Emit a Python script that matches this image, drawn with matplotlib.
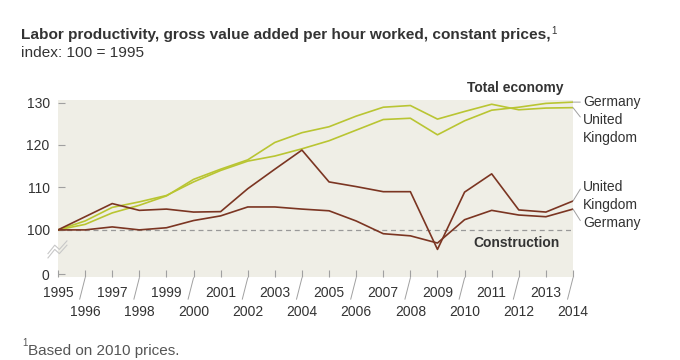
import matplotlib
matplotlib.use("Agg")
import matplotlib.pyplot as plt

plt.rcParams["font.family"] = ["Liberation Sans", "DejaVu Sans"]

# data
years = list(range(1995, 2015))
ge_total = [100, 102.1, 105.3, 106.6, 108.1, 111.3, 114.0, 116.2, 117.4, 119.1,
            121.0, 123.5, 126.0, 126.3, 122.4, 125.7, 128.2, 128.9, 129.8, 130.1]
uk_total = [100, 101.3, 104.0, 105.8, 108.0, 111.9, 114.3, 116.5, 120.6, 122.9,
            124.3, 126.8, 128.9, 129.3, 126.1, 127.9, 129.6, 128.3, 128.7, 128.8]
uk_constr = [100, 103.1, 106.2, 104.6, 104.9, 104.2, 104.3, 109.7, 114.3, 118.8,
             111.3, 110.2, 109.0, 109.0, 95.4, 108.9, 113.2, 104.7, 104.2, 106.8]
ge_constr = [100, 100.0, 100.7, 100.0, 100.5, 102.2, 103.3, 105.4, 105.4, 104.9,
             104.5, 102.1, 99.1, 98.6, 96.9, 102.4, 104.6, 103.5, 103.1, 104.9]

ZERO_POS = 89.5  # where "0" sits below the axis break
ytick_pos = [ZERO_POS, 100, 110, 120, 130]
ytick_lab = ["0", "100", "110", "120", "130"]

GREEN = "#b9c532"
BROWN = "#7b3522"
BG = "#efeee6"
TXT = "#333333"
GRAY = "#a0a0a0"

fig = plt.figure(figsize=(6.8, 3.6), dpi=100)
ax = fig.add_axes([58 / 680, 1 - 277 / 360, (573 - 58) / 680, 177 / 360])
ax.set_facecolor(BG)
for s in ax.spines.values():
    s.set_visible(False)

ax.axhline(100, color="#999999", lw=0.9, ls=(0, (4, 3)), zorder=1)

ax.plot(years, ge_total, color=GREEN, lw=1.2, zorder=3)
ax.plot(years, uk_total, color=GREEN, lw=1.2, zorder=3)
ax.plot(years, uk_constr, color=BROWN, lw=1.2, zorder=3)
ax.plot(years, ge_constr, color=BROWN, lw=1.2, zorder=3)

ax.set_xlim(1995, 2014)
ax.set_ylim(88.9, 130.6)
ax.set_yticks(ytick_pos)
ax.set_yticklabels(ytick_lab)
ax.set_xticks(years)
ax.set_xticklabels([])
ax.tick_params(axis="both", direction="in", length=5, width=0.8, color=GRAY,
               labelsize=10, labelcolor=TXT)
ax.tick_params(axis="y", pad=6)

# x labels in two rows with slanted separators
xt = ax.get_xaxis_transform()
for yr in years:
    if yr % 2 == 1:
        ax.text(yr, -0.088, str(yr), transform=xt, ha="center", va="center",
                fontsize=10, color=TXT, clip_on=False)
    else:
        ax.text(yr, -0.2, str(yr), transform=xt, ha="center", va="center",
                fontsize=10, color=TXT, clip_on=False)
        ax.plot([yr, yr - 0.2], [-0.005, -0.125], transform=xt, color=GRAY,
                lw=0.7, clip_on=False)

# axis break zigzag
for dy in (0, 1.0):
    ax.plot([-0.37 + 1995, -0.12 + 1995, 0.05 + 1995, 0.33 + 1995],
            [93.4 + dy, 95.4 + dy, 94.4 + dy, 96.4 + dy],
            color="#c8c8c8", lw=0.8, clip_on=False, zorder=4)

# series group labels
ax.text(2013.65, 1.068, "Total economy", transform=xt, ha="right", va="center",
        fontsize=10, fontweight="bold", color=TXT)
ax.text(2013.52, 96.9, "Construction", ha="right", va="center",
        fontsize=10, fontweight="bold", color=TXT)

# end labels with leader lines: (end value, leader target, text y, text)
end_x = years[-1]
lab_items = [
    (ge_total[-1], 130.1, 130.1, "Germany"),
    (uk_total[-1], 126.6, 123.7, "United\nKingdom"),
    (uk_constr[-1], 109.6, 108.0, "United\nKingdom"),
    (ge_constr[-1], 102.2, 101.6, "Germany"),
]
for yv, ylead, ty, txt in lab_items:
    ax.annotate("", xy=(end_x, yv), xytext=(end_x + 0.27, ylead),
                arrowprops=dict(arrowstyle="-", color=GRAY, lw=0.7,
                                shrinkA=0, shrinkB=0), annotation_clip=False)
    ax.text(end_x + 0.36, ty, txt, ha="left", va="center", fontsize=10,
            color=TXT, linespacing=1.4, clip_on=False)

# title
t = fig.text(21 / 680, 1 - 35 / 360,
             "Labor productivity, gross value added per hour worked, constant prices,",
             fontsize=11.1, fontweight="bold", color=TXT, va="center")
fig.text(21 / 680, 1 - 53 / 360, "index: 100 = 1995", fontsize=11.1,
         color=TXT, va="center")
fig.canvas.draw()
bb = t.get_window_extent()
fig.text((bb.x1 + 1) / 680, 1 - 31 / 360, "1", fontsize=7, color=TXT, va="center")

# footnote
fig.text(22 / 680, 1 - 343 / 360, "1", fontsize=7, color="#555555", va="center")
fig.text(28 / 680, 1 - 351 / 360, "Based on 2010 prices.", fontsize=11,
         color="#555555", va="center")

fig.savefig("out.png", dpi=100)
